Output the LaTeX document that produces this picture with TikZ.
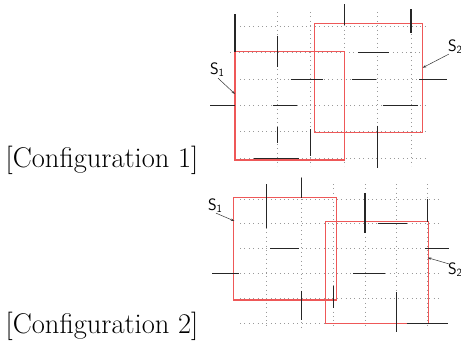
\documentclass[tikz,border=0pt]{standalone}
\usepackage{tikz}
\usetikzlibrary{arrows.meta}
\definecolor{boxred}{RGB}{238,88,88}
\tikzset{
  gridline/.style={gray!80, line width=0.7pt, dash pattern=on 0.8pt off 3.6pt},
  wall/.style={black!85, line width=1.5pt},
  region/.style={boxred, line width=1.1pt},
  caption/.style={font=\fontsize{28.5}{33}\selectfont, inner sep=0pt},
  setlabel/.style={font=\sffamily\fontsize{16.5}{18}\selectfont, inner sep=0pt},
  pointer/.style={black!80, line width=0.5pt, -{Stealth[length=3.5pt,width=2.5pt]}},
}
\begin{document}
\begin{tikzpicture}[x=1pt,y=-1pt]
\useasboundingbox (0,0) rectangle (461,348);

% ---------- first configuration ----------
\foreach \x in {277.3,310.7,344.3,377.7,411}
  \draw[gridline] (\x,12) -- (\x,166);
\foreach \y in {26,79.3,105.7,131.7,158.3}
  \draw[gridline] (240,\y) -- (428,\y);
\draw[gridline] (230,52.3) -- (420,52.3);

\draw[region] (235,51.7) rectangle (344.3,160);
\draw[region] (314.3,23.3) rectangle (422.7,132.3);

\draw[wall] (235,14) -- (235,51.7);
\draw[wall] (277.3,35.7) -- (277.3,66.7);
\draw[wall] (290.7,79.3) -- (323.3,79.3);
\draw[wall] (344.3,4) -- (344.3,25);
\draw[wall] (411,9.3) -- (411,32.7);
\draw[wall] (358.3,52.3) -- (389,52.3);
\draw[wall] (351.7,79.3) -- (375.7,79.3);
\draw[wall] (419.3,79.3) -- (446.7,79.3);
\draw[wall] (210,105.7) -- (235,105.7);
\draw[wall] (272.7,105.7) -- (296.7,105.7);
\draw[wall] (277.3,127.3) -- (277.3,143.3);
\draw[wall] (310.7,129) -- (310.7,155.7);
\draw[wall] (254.3,158.7) -- (299.3,158.7);
\draw[wall] (382.7,105.7) -- (417.7,105.7);
\draw[wall] (377.7,125.7) -- (377.7,168.3);

\node[setlabel] (sa1) at (217,70) {S\raisebox{-0.3ex}{\fontsize{11}{12}\selectfont 1}};
\coordinate (ta1) at (235,94);
\draw[pointer] (sa1.south) ++(1,1) -- (ta1);
\node[setlabel] (sb1) at (455,47) {S\raisebox{-0.3ex}{\fontsize{11}{12}\selectfont 2}};
\coordinate (tb1) at (422.7,67.7);
\draw[pointer] (sb1.south west) ++(1,0) -- (tb1);

\node[caption] (cap1) at (102,160) {[Configuration 1]};

% ---------- second configuration ----------
\foreach \x in {266.7,333.3,365,396.7,427.7}
  \draw[gridline] (\x,184) -- (\x,329);
\draw[gridline] (301.7,177) -- (301.7,329);
\foreach \y in {199,223.3,248.3,273.3,298.3,323.3}
  \draw[gridline] (240,\y) -- (442,\y);

\draw[region] (233.3,197.7) rectangle (336.3,300);
\draw[region] (325.3,221.7) rectangle (428.3,323.8);

\draw[wall] (266.7,184) -- (266.7,228.3);
\draw[wall] (301.7,177.7) -- (301.7,198.3);
\draw[wall] (270,248.3) -- (299,248.3);
\draw[wall] (365,193.3) -- (365,233.3);
\draw[wall] (427.7,199) -- (427.7,221.7);
\draw[wall] (377.7,223.3) -- (406.7,223.3);
\draw[wall] (425,248.3) -- (449.3,248.3);
\draw[wall] (212.3,273.3) -- (239.3,273.3);
\draw[wall] (301.7,290.7) -- (301.7,320);
\draw[wall] (353.3,273.3) -- (385,273.3);
\draw[wall] (333.3,285.7) -- (333.3,308.3);
\draw[wall] (396.7,292.3) -- (396.7,331.7);
\draw[wall] (406.7,323.3) -- (448.3,323.3);

\node[setlabel] (sa2) at (215,206) {S\raisebox{-0.3ex}{\fontsize{11}{12}\selectfont 1}};
\coordinate (ta2) at (234.3,221);
\draw[pointer] (sa2.south) ++(1,0) -- (ta2);
\node[setlabel] (sb2) at (455,270) {S\raisebox{-0.3ex}{\fontsize{11}{12}\selectfont 2}};
\coordinate (tb2) at (427.7,257.7);
\draw[pointer] (sb2.north west) ++(1,1) -- (tb2);

\node[caption] (cap2) at (102,326) {[Configuration 2]};
\end{tikzpicture}
\end{document}
